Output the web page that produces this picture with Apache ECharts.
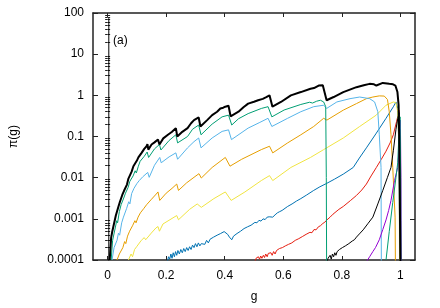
<!DOCTYPE html>
<html><head><meta charset="utf-8">
<script src="https://cdn.jsdelivr.net/npm/echarts@6/dist/echarts.min.js"></script>
<style>html,body{margin:0;padding:0;background:#fff}#c{width:440px;height:308px}</style>
</head><body><div id="c"></div>
<script>
// tick labels
const xTicks = [0, 0.2, 0.4, 0.6, 0.8, 1];
const yTickLabels = ['0.0001','0.001','0.01','0.1','1','10','100'];
const yMinorTicks = [];
[1e-4,1e-3,1e-2,1e-1,1,10].forEach(d=>{[2,3,4,5,6,7,8,9].forEach(k=>yMinorTicks.push(+(d*k).toPrecision(3)));});

// series values [g, pi(g)]
const spike0 = [[0.004,1e-6],[0.004,75]];
const totalPi = [[0.007,1e-4],[0.012,0.00035],[0.016,0.0005],[0.019,0.00045],[0.024,0.0009],[0.028,0.0012],[0.031,0.0011],[0.037,0.002],[0.042,0.0026],[0.045,0.0024],[0.05,0.0038],[0.056,0.0048],[0.06,0.0044],[0.066,0.0068],[0.071,0.0095],[0.075,0.009],[0.082,0.014],[0.088,0.019],[0.092,0.017],[0.1,0.026],[0.105,0.031],[0.109,0.029],[0.116,0.040],[0.125,0.05],[0.133,0.058],[0.136,0.065],[0.139,0.048],[0.15,0.064],[0.16,0.072],[0.172,0.085],[0.177,0.064],[0.19,0.09],[0.206,0.11],[0.22,0.13],[0.233,0.16],[0.238,0.10],[0.255,0.13],[0.273,0.16],[0.285,0.21],[0.295,0.25],[0.311,0.29],[0.317,0.175],[0.34,0.25],[0.357,0.33],[0.374,0.40],[0.385,0.48],[0.395,0.5],[0.402,0.53],[0.407,0.51],[0.413,0.56],[0.42,0.31],[0.447,0.40],[0.465,0.52],[0.48,0.63],[0.5,0.7],[0.514,0.76],[0.53,0.82],[0.542,0.9],[0.547,0.85],[0.553,1.0],[0.558,0.95],[0.563,0.53],[0.592,0.69],[0.626,1.0],[0.66,1.2],[0.693,1.44],[0.705,1.5],[0.71,1.45],[0.721,1.73],[0.735,1.75],[0.74,1.6],[0.748,0.76],[0.772,0.91],[0.805,1.2],[0.85,1.58],[0.875,1.75],[0.895,1.9],[0.91,1.85],[0.918,1.73],[0.94,2.0],[0.962,1.9],[0.975,1.85],[0.983,1.73],[0.99,1.2],[0.994,0.58],[0.996,0.1],[0.998,0.005],[1.0,1e-4],[1.0005,1e-6]];
const greenA = [[0.012,1e-4],[0.017,0.0003],[0.021,0.00028],[0.026,0.0006],[0.031,0.0009],[0.034,0.0008],[0.04,0.0015],[0.046,0.0022],[0.049,0.002],[0.055,0.0032],[0.061,0.0042],[0.064,0.0038],[0.07,0.0058],[0.076,0.0082],[0.08,0.0075],[0.087,0.011],[0.094,0.0147],[0.098,0.013],[0.105,0.019],[0.111,0.025],[0.114,0.023],[0.125,0.033],[0.135,0.042],[0.14,0.031],[0.16,0.05],[0.177,0.064],[0.182,0.047],[0.21,0.08],[0.233,0.11],[0.239,0.07],[0.273,0.1],[0.29,0.15],[0.311,0.19],[0.319,0.11],[0.357,0.2],[0.391,0.30],[0.413,0.33],[0.424,0.19],[0.447,0.27],[0.48,0.36],[0.525,0.48],[0.548,0.53],[0.561,0.30],[0.603,0.44],[0.66,0.6],[0.69,0.68],[0.7,0.65],[0.714,0.72],[0.727,0.76],[0.738,0.69],[0.745,0.53],[0.747,0.01],[0.748,1e-4],[0.7485,1e-6]];
const lightBlueA = [[0.015,1e-4],[0.022,0.0002],[0.026,0.00018],[0.032,0.0003],[0.037,0.00045],[0.041,0.0004],[0.048,0.0008],[0.054,0.0011],[0.058,0.001],[0.065,0.0018],[0.072,0.0026],[0.076,0.0023],[0.082,0.0041],[0.09,0.0055],[0.094,0.005],[0.1,0.0072],[0.108,0.0085],[0.112,0.0078],[0.12,0.0105],[0.137,0.0134],[0.142,0.0102],[0.16,0.02],[0.178,0.031],[0.183,0.023],[0.21,0.032],[0.233,0.040],[0.239,0.028],[0.273,0.053],[0.295,0.075],[0.311,0.092],[0.319,0.053],[0.357,0.092],[0.391,0.133],[0.413,0.145],[0.423,0.084],[0.48,0.16],[0.52,0.22],[0.548,0.277],[0.561,0.175],[0.615,0.277],[0.66,0.40],[0.704,0.53],[0.738,0.575],[0.748,0.48],[0.783,0.69],[0.828,0.83],[0.861,0.91],[0.895,0.83],[0.912,0.69],[0.923,0.40],[0.928,0.11],[0.934,0.0177],[0.935,1e-4],[0.9352,1e-6]];
const orangeA = [[0.032,1e-4],[0.04,0.00014],[0.045,0.00013],[0.052,0.0002],[0.058,0.00028],[0.062,0.00025],[0.068,0.00038],[0.075,0.0005],[0.079,0.00045],[0.086,0.0007],[0.093,0.0009],[0.097,0.0008],[0.104,0.0011],[0.112,0.0014],[0.116,0.0013],[0.124,0.0018],[0.133,0.0022],[0.138,0.0021],[0.15,0.003],[0.166,0.004],[0.172,0.0045],[0.178,0.0028],[0.2,0.0042],[0.22,0.0055],[0.236,0.007],[0.242,0.0049],[0.27,0.0075],[0.295,0.0102],[0.312,0.0125],[0.32,0.0098],[0.357,0.0177],[0.402,0.031],[0.418,0.019],[0.458,0.028],[0.525,0.048],[0.553,0.058],[0.564,0.040],[0.615,0.070],[0.66,0.11],[0.704,0.175],[0.738,0.277],[0.749,0.25],[0.805,0.437],[0.85,0.63],[0.884,0.83],[0.906,0.91],[0.928,0.97],[0.945,0.96],[0.956,0.79],[0.962,0.40],[0.968,0.11],[0.974,0.0177],[0.982,0.0011],[0.983,1e-4],[0.9832,1e-6]];
const yellowA = [[0.071,1e-4],[0.08,0.00014],[0.085,0.00012],[0.092,0.00018],[0.099,0.00021],[0.104,0.00019],[0.115,0.0003],[0.125,0.00035],[0.13,0.00031],[0.149,0.00045],[0.165,0.0006],[0.172,0.00065],[0.177,0.0005],[0.189,0.00075],[0.236,0.0012],[0.242,0.00095],[0.28,0.0017],[0.306,0.0023],[0.312,0.0025],[0.32,0.0019],[0.363,0.0031],[0.402,0.0045],[0.422,0.0028],[0.469,0.0045],[0.525,0.0085],[0.553,0.0112],[0.564,0.0085],[0.626,0.0177],[0.693,0.031],[0.738,0.048],[0.805,0.092],[0.861,0.175],[0.918,0.332],[0.951,0.575],[0.976,0.69],[0.985,0.66],[0.991,0.40],[0.994,0.092],[0.996,0.0177],[0.997,1e-4],[0.9972,1e-6]];
const blueA = [[0.204,9e-5],[0.208,0.00012],[0.212,0.000105],[0.216,0.00014],[0.22,0.00011],[0.224,0.00015],[0.228,0.00012],[0.232,0.00016],[0.236,0.00013],[0.24,0.00017],[0.245,0.00014],[0.25,0.00018],[0.255,0.00015],[0.26,0.00019],[0.265,0.00016],[0.27,0.0002],[0.275,0.00017],[0.28,0.00021],[0.285,0.00018],[0.29,0.00023],[0.295,0.0002],[0.3,0.00025],[0.305,0.00021],[0.31,0.00026],[0.315,0.00022],[0.32,0.00025],[0.326,0.00027],[0.332,0.00024],[0.338,0.0003],[0.344,0.00026],[0.35,0.00032],[0.356,0.0003],[0.362,0.00036],[0.368,0.00033],[0.374,0.0004],[0.38,0.00038],[0.386,0.00044],[0.392,0.00042],[0.398,0.00049],[0.404,0.00047],[0.41,0.00042],[0.416,0.00036],[0.424,0.00031],[0.43,0.00038],[0.436,0.00036],[0.442,0.00044],[0.448,0.00042],[0.454,0.0005],[0.46,0.00048],[0.466,0.00058],[0.472,0.00055],[0.478,0.00064],[0.484,0.0006],[0.49,0.0007],[0.496,0.00068],[0.503,0.00082],[0.51,0.0008],[0.517,0.00092],[0.524,0.00088],[0.531,0.001],[0.538,0.00096],[0.545,0.0011],[0.552,0.00112],[0.558,0.0012],[0.564,0.0011],[0.572,0.00125],[0.58,0.0014],[0.588,0.0015],[0.596,0.0016],[0.606,0.0018],[0.615,0.002],[0.63,0.0023],[0.645,0.0027],[0.66,0.0031],[0.68,0.0038],[0.704,0.0049],[0.725,0.006],[0.749,0.0073],[0.775,0.0092],[0.805,0.0122],[0.839,0.0177],[0.86,0.03],[0.884,0.053],[0.918,0.121],[0.951,0.277],[0.976,0.527],[0.985,0.69],[0.991,0.48],[0.995,0.053],[0.998,1e-4],[0.9982,1e-6]];
const redA = [[0.503,9e-5],[0.507,0.00011],[0.511,0.0001],[0.515,0.00012],[0.519,0.000105],[0.523,0.000125],[0.527,0.00011],[0.532,0.00013],[0.536,0.000115],[0.54,0.00014],[0.545,0.00012],[0.549,0.000145],[0.553,0.00013],[0.558,0.00015],[0.562,0.00013],[0.567,0.00016],[0.572,0.00014],[0.577,0.00017],[0.582,0.00016],[0.587,0.00019],[0.592,0.00017],[0.597,0.0002],[0.602,0.00018],[0.607,0.00022],[0.612,0.0002],[0.618,0.00024],[0.623,0.00022],[0.629,0.00026],[0.635,0.00025],[0.641,0.0003],[0.647,0.00028],[0.653,0.00033],[0.659,0.00031],[0.665,0.00037],[0.671,0.00035],[0.678,0.00042],[0.684,0.0004],[0.691,0.00047],[0.698,0.00046],[0.705,0.00055],[0.712,0.00054],[0.72,0.00064],[0.727,0.00068],[0.735,0.00077],[0.742,0.00083],[0.749,0.00094],[0.76,0.0011],[0.77,0.0013],[0.79,0.0017],[0.805,0.002],[0.83,0.0028],[0.85,0.0037],[0.868,0.005],[0.884,0.007],[0.9,0.011],[0.918,0.0177],[0.935,0.028],[0.951,0.044],[0.965,0.07],[0.976,0.11],[0.987,0.23],[0.996,0.43],[0.999,0.05],[1.0,1e-4],[1.0002,1e-6]];
const blackThin = [[0.75,9e-5],[0.753,0.00011],[0.757,0.0001],[0.76,0.00013],[0.764,0.000105],[0.768,0.00014],[0.772,0.00012],[0.776,0.00015],[0.78,0.00013],[0.784,0.00016],[0.788,0.00015],[0.792,0.00018],[0.797,0.00017],[0.802,0.0002],[0.807,0.00019],[0.812,0.00022],[0.818,0.00022],[0.824,0.00025],[0.83,0.00026],[0.836,0.00029],[0.843,0.00031],[0.85,0.00036],[0.86,0.00043],[0.873,0.00054],[0.89,0.00078],[0.906,0.0011],[0.923,0.0023],[0.94,0.0049],[0.956,0.0102],[0.968,0.0177],[0.976,0.045],[0.985,0.15],[0.991,0.27],[0.996,0.38],[0.999,0.04],[1.0,1e-4],[1.0002,1e-6]];
const purpleA = [[0.884,9e-5],[0.889,0.0001],[0.895,0.00012],[0.9,0.00011],[0.906,0.00016],[0.915,0.0002],[0.928,0.00031],[0.94,0.00055],[0.951,0.00094],[0.96,0.0016],[0.968,0.0028],[0.98,0.0085],[0.991,0.0177],[0.996,0.053],[1.0,0.25],[1.002,0.01],[1.003,1e-4],[1.0032,1e-6]];
const greenB = [[0.951,1e-4],[0.962,0.00049],[0.974,0.0025],[0.985,0.0102],[0.991,0.023],[0.996,0.16],[0.999,0.3],[1.001,0.01],[1.002,1e-4],[1.0022,1e-6]];

const FONT = 'Liberation Sans';
function ln(name, data, color, width){
  return {name, type:'line', data, showSymbol:false, symbol:'none', clip:true, xAxisIndex:0, yAxisIndex:0,
    lineStyle:{color, width}, itemStyle:{color}, silent:true, z: width>1?5:3};
}
const chart = echarts.init(document.getElementById('c'), null, {renderer:'canvas'});
const borderLine = {show:true, onZero:false, lineStyle:{color:'#222', width:1.5}};
const yBase = {type:'log', logBase:10, min:1e-4, max:100, gridIndex:0, splitLine:{show:false}, minorTick:{show:false}};
chart.setOption({
  animation:false,
  backgroundColor:'#fff',
  title:{text:'(a)', left:108, top:30, textStyle:{fontFamily:FONT, fontSize:12, fontWeight:'normal', color:'#000'}},
  grid:{left:90, right:25, top:13, bottom:44, containLabel:false},
  xAxis:[
    {type:'value', min:-0.05, max:1.05, position:'bottom', axisLine:borderLine,
     axisTick:{inside:true, length:4, customValues:xTicks, lineStyle:{color:'#222'}},
     axisLabel:{customValues:xTicks, margin:10, color:'#000', fontFamily:FONT, fontSize:12, formatter:v=>String(v)},
     splitLine:{show:false}, name:'g', nameLocation:'middle', nameGap:31,
     nameTextStyle:{fontFamily:FONT, fontSize:12, color:'#000'}},
    {type:'value', min:-0.05, max:1.05, position:'top', axisLine:borderLine,
     axisTick:{inside:true, length:4, customValues:xTicks, lineStyle:{color:'#222'}},
     axisLabel:{show:false}, splitLine:{show:false}}
  ],
  yAxis:[
    Object.assign({}, yBase, {position:'left', axisLine:borderLine,
     axisTick:{inside:true, length:5, lineStyle:{color:'#222'}},
     axisLabel:{margin:9, color:'#000', fontFamily:FONT, fontSize:12,
       formatter:v=>yTickLabels[Math.round(Math.log10(v))+4]},
     name:'π(g)', nameLocation:'middle', nameGap:73, nameRotate:90,
     nameTextStyle:{fontFamily:FONT, fontSize:12, color:'#000'}}),
    Object.assign({}, yBase, {position:'right', axisLine:borderLine,
     axisTick:{inside:true, length:5, lineStyle:{color:'#222'}}, axisLabel:{show:false}}),
    Object.assign({}, yBase, {position:'left', axisLine:{show:false},
     axisTick:{inside:true, length:2.5, customValues:yMinorTicks, lineStyle:{color:'#222'}}, axisLabel:{show:false}}),
    Object.assign({}, yBase, {position:'right', axisLine:{show:false},
     axisTick:{inside:true, length:2.5, customValues:yMinorTicks, lineStyle:{color:'#222'}}, axisLabel:{show:false}})
  ],
  series:[
    ln('spike', spike0, '#000', 1),
    ln('red', redA, '#e51e10', 1),
    ln('blue', blueA, '#0072b2', 1),
    ln('yellow', yellowA, '#f0e442', 1),
    ln('orange', orangeA, '#e69f00', 1),
    ln('lightblue', lightBlueA, '#56b4e9', 1),
    ln('green', greenA, '#009e73', 1),
    ln('blackthin', blackThin, '#000', 1),
    ln('purple', purpleA, '#9400d3', 1),
    ln('green2', greenB, '#009e73', 1),
    ln('total', totalPi, '#000', 2)
  ]
});
</script></body></html>
